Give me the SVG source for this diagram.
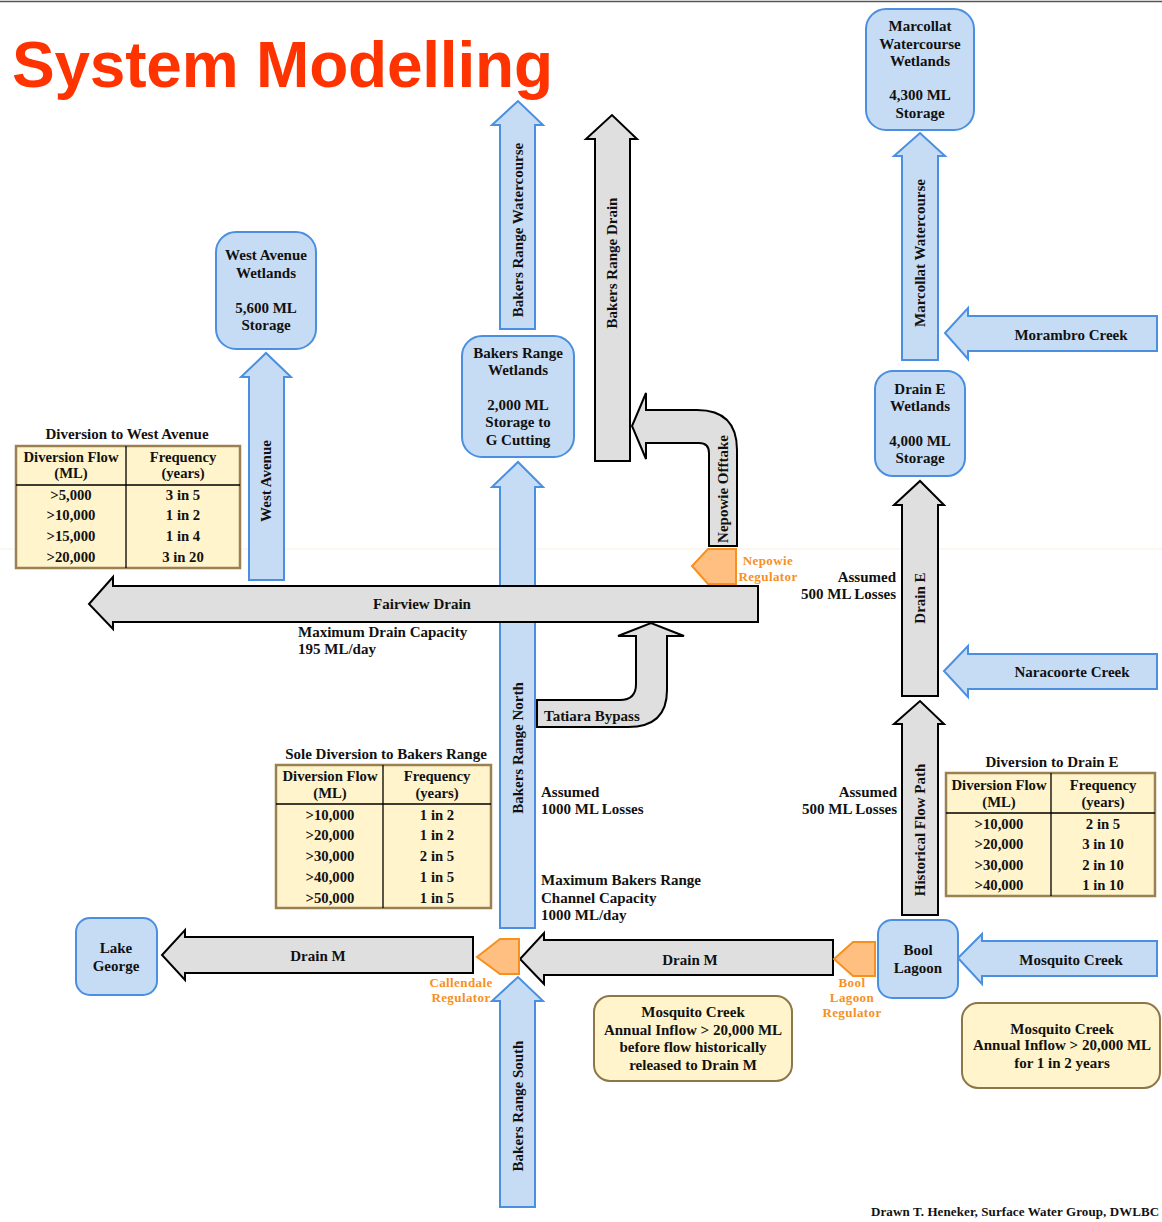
<svg xmlns="http://www.w3.org/2000/svg" width="1162" height="1222" viewBox="0 0 1162 1222">
  <style>
    text { font-family: "Liberation Serif", "Times New Roman", serif; font-weight: bold; font-size: 15px; fill: #111; }
    .c { text-anchor: middle; }
    .r { text-anchor: end; }
    .title { font-family: "Liberation Sans", Arial, sans-serif; font-size: 64px; fill: #FF3300; }
    .reg { fill: #F7901E; font-size: 13px; letter-spacing: 0.4px; }
    .cell { font-size: 14.7px; }
    .foot { font-size: 13px; letter-spacing: 0.1px; }
    .blue { fill: #C6DCF5; stroke: #4A8FE0; stroke-width: 2; stroke-linejoin: miter; }
    .gray { fill: #DFDFDF; stroke: #000; stroke-width: 2; }
    .orange { fill: #FFBF80; stroke: #F7901E; stroke-width: 2; }
    .store { fill: #C6DCF5; stroke: #4A8FE0; stroke-width: 2; }
    .table { fill: #FFF4CB; stroke: #9B8151; stroke-width: 2.5; }
    .grid { stroke: #000; stroke-width: 1.3; fill: none; }
    .note { fill: #FFF4CB; stroke: #8D7648; stroke-width: 2; }
  </style>

  <rect width="1162" height="1222" fill="#fff"/>
  <line x1="0" y1="1.5" x2="1162" y2="1.5" stroke="#555" stroke-width="1.5"/>
  <line x1="0" y1="549" x2="1162" y2="549" stroke="#FAF1DC" stroke-width="1"/>

  <text class="title" x="12" y="87" textLength="541">System Modelling</text>

  <!-- flow paths -->
  <g id="connectors">
    <g id="west-avenue">
      <path class="blue" d="M249,580 L249,377 L241,377 L266,353 L291,377 L284,377 L284,580 Z"/>
      <text class="c" transform="translate(266,481) rotate(-90)" y="5">West Avenue</text>
    </g>
    <g id="bakers-range-watercourse">
      <path class="blue" d="M500,329 L500,125 L492,125 L518,101 L543,125 L535,125 L535,329 Z"/>
      <text class="c" transform="translate(518,230) rotate(-90)" y="5">Bakers Range Watercourse</text>
    </g>
    <g id="bakers-range-drain">
      <path class="gray" d="M595,461 L595,139 L586,139 L612,115 L637,139 L630,139 L630,461 Z"/>
      <text class="c" transform="translate(612,263) rotate(-90)" y="5">Bakers Range Drain</text>
    </g>
    <g id="nepowie-offtake">
      <path class="gray" d="M737,546 L737,450 Q737,410 697,410 L646,410 L646,393 L632,426 L646,459 L646,443 L699,443 Q709,443 709,453 L709,546 Z"/>
      <text class="c" transform="translate(723,489) rotate(-90)" y="5">Nepowie Offtake</text>
    </g>
    <g id="bakers-range-north">
      <path class="blue" d="M500,928 L500,487 L492,487 L518,462 L543,487 L535,487 L535,928 Z"/>
      <text class="c" transform="translate(518,748) rotate(-90)" y="5">Bakers Range North</text>
    </g>
    <g id="fairview-drain">
      <path class="gray" d="M758,586 L113,586 L113,577 L89,604 L113,629 L113,622 L758,622 Z"/>
      <text class="c" x="422" y="609">Fairview Drain</text>
    </g>
    <g id="tatiara-bypass">
      <path class="gray" d="M537,700 L620,700 Q636,700 636,684 L636,636 L618,636 L651,623 L684,636 L667,636 L667,690 Q667,727 628,727 L537,727 Z"/>
      <text x="544" y="721">Tatiara Bypass</text>
    </g>
    <g id="bakers-range-south">
      <path class="blue" d="M500,1207 L500,1001 L492,1001 L518,977 L543,1001 L535,1001 L535,1207 Z"/>
      <text class="c" transform="translate(518,1106) rotate(-90)" y="5">Bakers Range South</text>
    </g>
    <g id="drain-m-lower">
      <path class="gray" d="M473,937 L185,937 L185,930 L162,955 L185,980 L185,973 L473,973 Z"/>
      <text class="c" x="318" y="961">Drain M</text>
    </g>
    <g id="drain-m-upper">
      <path class="gray" d="M833,940 L544,940 L544,933 L520,959 L544,984 L544,975 L833,975 Z"/>
      <text class="c" x="690" y="965">Drain M</text>
    </g>
    <g id="mosquito-creek">
      <path class="blue" d="M1157,941 L982,941 L982,934 L958,958 L982,984 L982,976 L1157,976 Z"/>
      <text class="c" x="1071" y="965">Mosquito Creek</text>
    </g>
    <g id="historical-flow-path">
      <path class="gray" d="M902,915 L902,724 L894,724 L920,701 L944,724 L938,724 L938,915 Z"/>
      <text class="c" transform="translate(920,830) rotate(-90)" y="5">Historical Flow Path</text>
    </g>
    <g id="drain-e">
      <path class="gray" d="M902,696 L902,505 L894,505 L920,481 L944,505 L938,505 L938,696 Z"/>
      <text class="c" transform="translate(920,598) rotate(-90)" y="5">Drain E</text>
    </g>
    <g id="naracoorte-creek">
      <path class="blue" d="M1157,654 L968,654 L968,646 L944,671 L968,697 L968,689 L1157,689 Z"/>
      <text class="c" x="1072" y="677">Naracoorte Creek</text>
    </g>
    <g id="marcollat-watercourse">
      <path class="blue" d="M902,360 L902,156 L894,156 L920,133 L945,156 L938,156 L938,360 Z"/>
      <text class="c" transform="translate(920,253) rotate(-90)" y="5">Marcollat Watercourse</text>
    </g>
    <g id="morambro-creek">
      <path class="blue" d="M1157,316 L968,316 L968,308 L945,333 L968,359 L968,351 L1157,351 Z"/>
      <text class="c" x="1071" y="340">Morambro Creek</text>
    </g>
  </g>

  <!-- storages -->
  <g id="west-avenue-wetlands">
    <rect class="store" x="216" y="232" width="100" height="117" rx="20"/>
    <text class="c" x="266" y="260">West Avenue</text>
    <text class="c" x="266" y="278">Wetlands</text>
    <text class="c" x="266" y="313">5,600 ML</text>
    <text class="c" x="266" y="330">Storage</text>
  </g>
  <g id="bakers-range-wetlands">
    <rect class="store" x="462" y="336" width="112" height="121" rx="20"/>
    <text class="c" x="518" y="358">Bakers Range</text>
    <text class="c" x="518" y="375">Wetlands</text>
    <text class="c" x="518" y="410">2,000 ML</text>
    <text class="c" x="518" y="427">Storage to</text>
    <text class="c" x="518" y="445">G Cutting</text>
  </g>
  <g id="marcollat-wetlands">
    <rect class="store" x="866" y="9" width="108" height="121" rx="20"/>
    <text class="c" x="920" y="31">Marcollat</text>
    <text class="c" x="920" y="49">Watercourse</text>
    <text class="c" x="920" y="66">Wetlands</text>
    <text class="c" x="920" y="100">4,300 ML</text>
    <text class="c" x="920" y="118">Storage</text>
  </g>
  <g id="drain-e-wetlands">
    <rect class="store" x="875" y="371" width="90" height="105" rx="18"/>
    <text class="c" x="920" y="394">Drain E</text>
    <text class="c" x="920" y="411">Wetlands</text>
    <text class="c" x="920" y="446">4,000 ML</text>
    <text class="c" x="920" y="463">Storage</text>
  </g>
  <g id="lake-george">
    <rect class="store" x="76" y="918" width="81" height="77" rx="14"/>
    <text class="c" x="116" y="953">Lake</text>
    <text class="c" x="116" y="971">George</text>
  </g>
  <g id="bool-lagoon">
    <rect class="store" x="878" y="920" width="80" height="78" rx="14"/>
    <text class="c" x="918" y="955">Bool</text>
    <text class="c" x="918" y="973">Lagoon</text>
  </g>

  <!-- regulators -->
  <g id="nepowie-regulator">
    <path class="orange" d="M736,549 L708,549 L692,566 L708,584 L736,584 Z"/>
    <text class="reg c" x="768" y="565">Nepowie</text>
    <text class="reg c" x="768" y="581">Regulator</text>
  </g>
  <g id="callendale-regulator">
    <path class="orange" d="M519,939 L500,939 L477,957 L500,974 L519,974 Z"/>
    <text class="reg c" x="461" y="987">Callendale</text>
    <text class="reg c" x="461" y="1002">Regulator</text>
  </g>
  <g id="bool-lagoon-regulator">
    <path class="orange" d="M875,942 L853,942 L834,959 L853,976 L875,976 Z"/>
    <text class="reg c" x="852" y="987">Bool</text>
    <text class="reg c" x="852" y="1002">Lagoon</text>
    <text class="reg c" x="852" y="1017">Regulator</text>
  </g>

  <!-- diversion tables -->
  <g id="table-west-avenue">
    <text class="c" x="127" y="439">Diversion to West Avenue</text>
    <rect class="table" x="16" y="446" width="224" height="122"/>
    <path class="grid" d="M126,446 V568 M16,485 H240"/>
    <text class="c cell" x="71" y="462">Diversion Flow</text>
    <text class="c cell" x="71" y="478">(ML)</text>
    <text class="c cell" x="183" y="462">Frequency</text>
    <text class="c cell" x="183" y="478">(years)</text>
    <text class="c cell" x="71" y="500">&gt;5,000</text>
    <text class="c cell" x="71" y="520">&gt;10,000</text>
    <text class="c cell" x="71" y="541">&gt;15,000</text>
    <text class="c cell" x="71" y="562">&gt;20,000</text>
    <text class="c cell" x="183" y="500">3 in 5</text>
    <text class="c cell" x="183" y="520">1 in 2</text>
    <text class="c cell" x="183" y="541">1 in 4</text>
    <text class="c cell" x="183" y="562">3 in 20</text>
  </g>
  <g id="table-bakers-range">
    <text class="c" x="386" y="759">Sole Diversion to Bakers Range</text>
    <rect class="table" x="276" y="765" width="215" height="143"/>
    <path class="grid" d="M383,765 V908 M276,804 H491"/>
    <text class="c cell" x="330" y="781">Diversion Flow</text>
    <text class="c cell" x="330" y="798">(ML)</text>
    <text class="c cell" x="437" y="781">Frequency</text>
    <text class="c cell" x="437" y="798">(years)</text>
    <text class="c cell" x="330" y="820">&gt;10,000</text>
    <text class="c cell" x="330" y="840">&gt;20,000</text>
    <text class="c cell" x="330" y="861">&gt;30,000</text>
    <text class="c cell" x="330" y="882">&gt;40,000</text>
    <text class="c cell" x="330" y="903">&gt;50,000</text>
    <text class="c cell" x="437" y="820">1 in 2</text>
    <text class="c cell" x="437" y="840">1 in 2</text>
    <text class="c cell" x="437" y="861">2 in 5</text>
    <text class="c cell" x="437" y="882">1 in 5</text>
    <text class="c cell" x="437" y="903">1 in 5</text>
  </g>
  <g id="table-drain-e">
    <text class="c" x="1052" y="767">Diversion to Drain E</text>
    <rect class="table" x="946" y="773" width="209" height="123"/>
    <path class="grid" d="M1051,773 V896 M946,813 H1155"/>
    <text class="c cell" x="999" y="790">Diversion Flow</text>
    <text class="c cell" x="999" y="807">(ML)</text>
    <text class="c cell" x="1103" y="790">Frequency</text>
    <text class="c cell" x="1103" y="807">(years)</text>
    <text class="c cell" x="999" y="829">&gt;10,000</text>
    <text class="c cell" x="999" y="849">&gt;20,000</text>
    <text class="c cell" x="999" y="870">&gt;30,000</text>
    <text class="c cell" x="999" y="890">&gt;40,000</text>
    <text class="c cell" x="1103" y="829">2 in 5</text>
    <text class="c cell" x="1103" y="849">3 in 10</text>
    <text class="c cell" x="1103" y="870">2 in 10</text>
    <text class="c cell" x="1103" y="890">1 in 10</text>
  </g>

  <!-- annotations -->
  <g id="annotations">
    <text x="298" y="637">Maximum Drain Capacity</text>
    <text x="298" y="654">195 ML/day</text>
    <text class="r" x="896" y="582">Assumed</text>
    <text class="r" x="896" y="599">500 ML Losses</text>
    <text class="r" x="897" y="797">Assumed</text>
    <text class="r" x="897" y="814">500 ML Losses</text>
    <text x="541" y="797">Assumed</text>
    <text x="541" y="814">1000 ML Losses</text>
    <text x="541" y="885">Maximum Bakers Range</text>
    <text x="541" y="903">Channel Capacity</text>
    <text x="541" y="920">1000 ML/day</text>
  </g>

  <g id="note-drain-m">
    <rect class="note" x="594" y="996" width="198" height="85" rx="16"/>
    <text class="c" x="693" y="1017">Mosquito Creek</text>
    <text class="c" x="693" y="1035">Annual Inflow &gt; 20,000 ML</text>
    <text class="c" x="693" y="1052">before flow historically</text>
    <text class="c" x="693" y="1070">released to Drain M</text>
  </g>
  <g id="note-inflow">
    <rect class="note" x="962" y="1003" width="198" height="85" rx="16"/>
    <text class="c" x="1062" y="1034">Mosquito Creek</text>
    <text class="c" x="1062" y="1050">Annual Inflow &gt; 20,000 ML</text>
    <text class="c" x="1062" y="1068">for 1 in 2 years</text>
  </g>

  <text class="foot" x="871" y="1216">Drawn T. Heneker, Surface Water Group, DWLBC</text>
</svg>
